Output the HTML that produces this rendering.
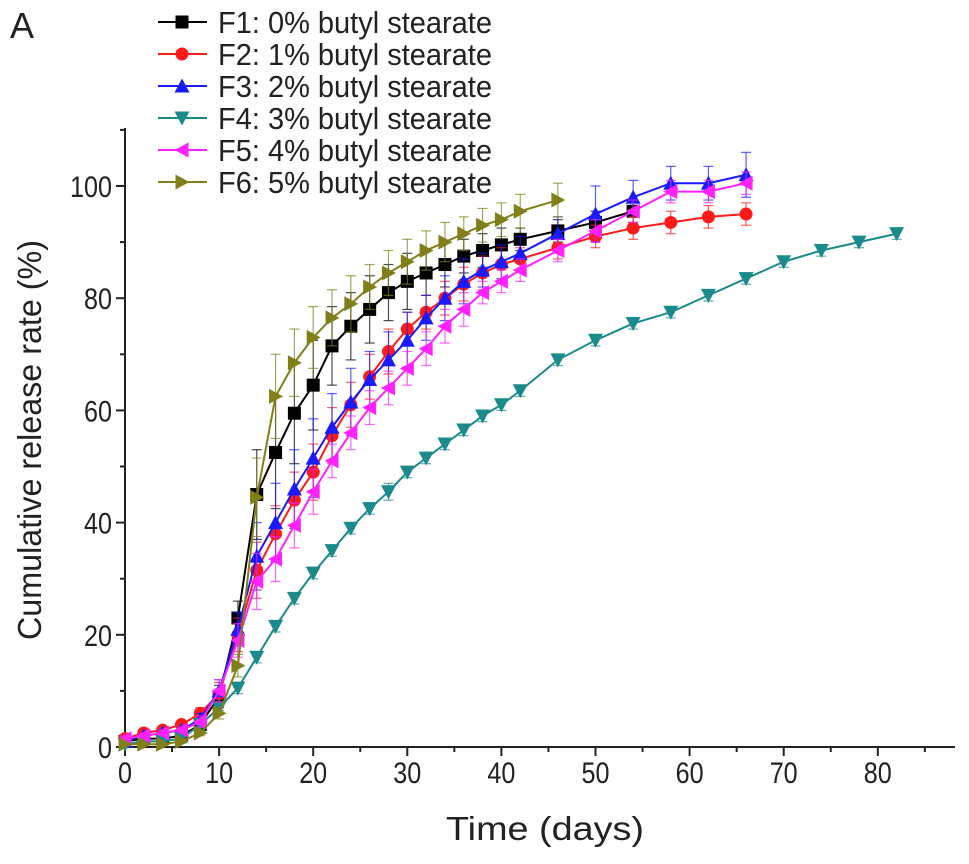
<!DOCTYPE html>
<html><head><meta charset="utf-8"><style>
body{margin:0;background:#fff;}
svg text{font-family:"Liberation Sans",Arial,sans-serif;fill:#222;}
</style></head><body>
<svg id="chart" width="969" height="859" xmlns="http://www.w3.org/2000/svg"></svg>
<script>
const seriesNames=["F1: 0% butyl stearate","F2: 1% butyl stearate","F3: 2% butyl stearate","F4: 3% butyl stearate","F5: 4% butyl stearate","F6: 5% butyl stearate"];
const f1Days=[0,2,4,6,8,10,12,14,16,18,20,22,24,26,28,30,32,34,36,38,40,42,46,50,54];
const f1Vals=[1,1.5,1.5,2,4,9,23,45,52.5,59.5,64.5,71.5,75,78,81,83,84.5,86,87.5,88.5,89.5,90.5,92,93.5,95.5];
const f1Err=[0.5,0.5,0.5,0.5,1,2,3,8,10,9,8,7,6,6,5,5,4,4,3,3,3,2,2,2,2];
const f2Days=[0,2,4,6,8,10,12,14,16,18,20,22,24,26,28,30,32,34,36,38,40,42,46,50,54,58,62,66];
const f2Vals=[1.5,2.5,3,4,6,9.5,20,31.5,38,44,49,55.5,61,66,70.5,74.5,77.5,80,82.5,84.5,86,87,89,91,92.5,93.5,94.5,95];
const f2Err=[0.5,0.5,0.5,0.5,1,2,3,5,5,5,5,5,4,4,4,3,3,3,3,3,3,2,2,2,2,2,2,2];
const f3Days=f2Days;
const f3Vals=[1,2,2.5,3,5,10,21,34,40,46,51.5,57,61.5,65.5,69,72.5,76.5,80,83,85,86.5,88,91.5,95,98,100.5,100.5,102];
const f3Err=[0.5,0.5,0.5,0.5,1,2,3,6,7,7,7,6,6,5,5,5,4,4,4,3,3,3,3,5,3,3,3,4];
const f4Days=[0,2,4,6,8,10,12,14,16,18,20,22,24,26,28,30,32,34,36,38,40,42,46,50,54,58,62,66,70,74,78,82];
const f4Vals=[0.5,1,1,1.5,4,7,10.5,16,21.5,26.5,31,35,39,42.5,45.5,49,51.5,54,56.5,59,61,63.5,69,72.5,75.5,77.5,80.5,83.5,86.5,88.5,90,91.5];
const f4Err=[0.3,0.3,0.3,0.3,0.5,0.5,1,1,1,1,1,1,1,1,1.5,1,1,1,1,1,1,1,1,1,1,1,1,1,1,1,1,1];
const f5Days=f2Days;
const f5Vals=[1.5,2,2.5,3,4.5,10,19,29.5,33.5,39.5,45.5,51,56,60.5,64,67.5,71,75,78,81,83,85,88.5,92,95.5,99,99,100.5];
const f5Err=[0.5,0.5,0.5,0.5,1,2,3,5,4,4,4,3,3,3,3,3,3,3,3,2,2,2,2,2,2,2,2,2];
const f6Days=[0,2,4,6,8,10,12,14,16,18,20,22,24,26,28,30,32,34,36,38,40,42,46];
const f6Vals=[0.5,0.5,0.5,1,2.5,6,14.5,44.5,62.5,68.5,73,76.5,79,82,84.5,86.5,88.5,90,91.5,93,94,95.5,97.5];
const f6Err=[0.3,0.3,0.3,0.3,0.5,1,2,7,7.5,6,5.5,5,5,4,4,4,3.5,3.5,3,3,3,3,3];
const xTicks=[0,10,20,30,40,50,60,70,80];
const yTicks=[0,20,40,60,80,100];

const colors=["#000000","#ff1a1a","#1a1aff","#1a8a8a","#ff22ff","#80801a"];
const shapes=["square","circle","up","down","left","right"];
const allSeries=[[f1Days,f1Vals,f1Err],[f2Days,f2Vals,f2Err],[f3Days,f3Vals,f3Err],[f4Days,f4Vals,f4Err],[f5Days,f5Vals,f5Err],[f6Days,f6Vals,f6Err]];

const NS="http://www.w3.org/2000/svg";
const svg=document.getElementById('chart');
const X=d=>125+d*9.41;
const Y=v=>747-v*5.61;
function mk(tag,attrs,parent){const e=document.createElementNS(NS,tag);for(const k in attrs)e.setAttribute(k,attrs[k]);(parent||svg).appendChild(e);return e;}
function marker(shape,cx,cy,color,g){
  const r=6.5;let e;
  if(shape==="square")e=mk('rect',{x:cx-r,y:cy-r,width:2*r,height:2*r,fill:color},g);
  else if(shape==="circle")e=mk('circle',{cx:cx,cy:cy,r:r,fill:color},g);
  else{let p;
    if(shape==="up")p=[[cx,cy-r-1],[cx-r-1,cy+r],[cx+r+1,cy+r]];
    if(shape==="down")p=[[cx,cy+r+1],[cx-r-1,cy-r],[cx+r+1,cy-r]];
    if(shape==="left")p=[[cx-r-1,cy],[cx+r,cy-r-1],[cx+r,cy+r+1]];
    if(shape==="right")p=[[cx+r+1,cy],[cx-r,cy-r-1],[cx-r,cy+r+1]];
    e=mk('polygon',{points:p.map(q=>q.join(',')).join(' '),fill:color},g);}
  return e;
}
const ax=mk('g',{stroke:'#222','stroke-width':2});


mk('line',{x1:125,y1:128,x2:125,y2:748},ax);
mk('line',{x1:124,y1:747,x2:955,y2:747},ax);
for(let v=0;v<=110;v+=10){mk('line',{x1:125,x2:v%20===0?116:120,y1:Y(v),y2:Y(v)},ax);}
for(let d=0;d<=85;d+=5){mk('line',{y1:747,y2:d%10===0?756:752,x1:X(d),x2:X(d)},ax);}
yTicks.forEach(v=>{const t=mk('text',{x:112,y:Y(v)+11,'text-anchor':'end','font-size':30,textLength:String(v).length*14,lengthAdjust:'spacingAndGlyphs'});t.textContent=v;

});
xTicks.forEach(d=>{const t=mk('text',{x:X(d),y:783,'text-anchor':'middle','font-size':30,textLength:String(d).length*14,lengthAdjust:'spacingAndGlyphs'});t.textContent=d;

});
const xt=mk('text',{x:545,y:840,'text-anchor':'middle','font-size':33,textLength:198,lengthAdjust:'spacingAndGlyphs'});xt.textContent='Time (days)';


const yt=mk('text',{x:0,y:0,'text-anchor':'middle','font-size':33,textLength:400,lengthAdjust:'spacingAndGlyphs',transform:'translate(41,440) rotate(-90)'});yt.textContent='Cumulative release rate (%)';


const pl=mk('text',{x:10,y:38,'font-size':36});pl.textContent='A';


allSeries.forEach((s,i)=>{
  const [days,vals,errs]=s;const c=colors[i];
  const g=mk('g',{});
  
  
  days.forEach((d,j)=>{const x=X(d),y1=Y(vals[j]+errs[j]),y2=Y(vals[j]-errs[j]);
    mk('line',{x1:x,x2:x,y1:y1,y2:y2,stroke:c,'stroke-width':1.2,opacity:0.7},g);
    mk('line',{x1:x-5,x2:x+5,y1:y1,y2:y1,stroke:c,'stroke-width':1.2,opacity:0.7},g);
    mk('line',{x1:x-5,x2:x+5,y1:y2,y2:y2,stroke:c,'stroke-width':1.2,opacity:0.7},g);});
  mk('polyline',{points:days.map((d,j)=>X(d)+','+Y(vals[j])).join(' '),fill:'none',stroke:c,'stroke-width':2},g);
  days.forEach((d,j)=>{const m=marker(shapes[i],X(d),Y(vals[j]),c,g);
    
    });
});
const lg=mk('g',{});


seriesNames.forEach((n,i)=>{const y=22+i*32;
  const e=mk('g',{},lg);
  
  
  mk('line',{x1:158,x2:207,y1:y,y2:y,stroke:colors[i],'stroke-width':2},e);
  marker(shapes[i],182,y,colors[i],e);
  const t=mk('text',{x:218,y:y+11,'font-size':31,textLength:274,lengthAdjust:'spacingAndGlyphs'},e);t.textContent=n;});
</script>
</body></html>
